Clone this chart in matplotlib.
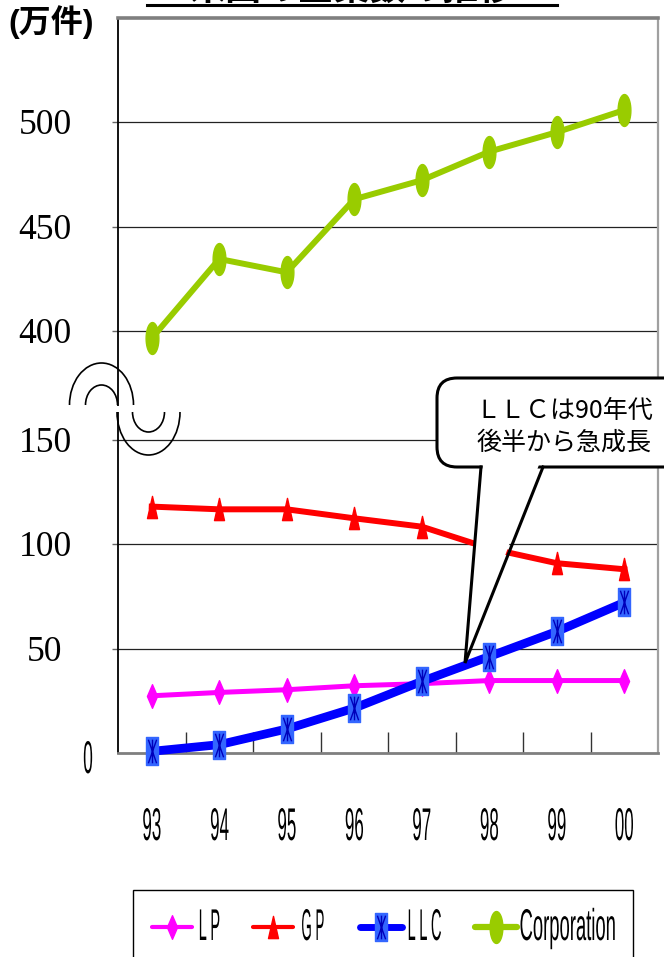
import numpy as np
import matplotlib
matplotlib.use('Agg')
import matplotlib.pyplot as plt
from matplotlib.path import Path
from matplotlib.patches import Arc, FancyBboxPatch, Polygon, Rectangle
from matplotlib.lines import Line2D
from matplotlib.text import Text
from matplotlib.transforms import Affine2D, Bbox, IdentityTransform, blended_transform_factory, offset_copy
from matplotlib.patheffects import AbstractPathEffect

# ---------------- data ----------------
years = ['93', '94', '95', '96', '97', '98', '99', '00']
lp = [27.4, 29.0, 30.3, 32.2, 33.2, 34.7, 34.7, 34.7]
gp = [118.0, 116.7, 116.7, 112.4, 108.4, 98.0, 90.9, 88.0]
llc = [0.8, 4.0, 11.5, 21.5, 34.3, 46.2, 58.2, 72.1]
corp = [396.6, 434.6, 428.2, 463.2, 472.3, 486.0, 495.3, 505.9]
series_names = ['L P', 'G P', 'L L C', 'Corporation']
ytick_values = [50, 100, 150, 400, 450, 500]
ytick_labels = ['50', '100', '150', '400', '450', '500']
title = '米国の企業数の推移'
unit = '(万件)'
note = 'ＬＬＣは90年代\n後半から急成長'

W, H = 664, 957
PX = IdentityTransform()


def py(y):
    return H - y


class Squeeze(AbstractPathEffect):
    """Horizontally condense glyphs around their centre."""
    def __init__(self, sx):
        super().__init__((0, 0))
        self.sx = sx

    def draw_path(self, renderer, gc, tpath, affine, rgbFace=None):
        ext = tpath.get_extents()
        cx = 0.5 * (ext.x0 + ext.x1)
        t = Affine2D().translate(-cx, 0).scale(self.sx, 1).translate(cx, 0) + affine
        renderer.draw_path(gc, tpath, t, rgbFace)


class CondensedText(Text):
    """Text drawn horizontally condensed; reports its condensed extent."""
    def __init__(self, *args, sx=0.4, **kwargs):
        super().__init__(*args, **kwargs)
        self._sx = sx
        self.set_path_effects([Squeeze(sx)])

    def get_window_extent(self, renderer=None, dpi=None):
        bb = super().get_window_extent(renderer, dpi)
        cx = 0.5 * (bb.x0 + bb.x1)
        w = bb.width * self._sx
        return Bbox.from_extents(cx - w / 2, bb.y0, cx + w / 2, bb.y1)


# broken y scale: 0-150 and 400-550 shown at the same scale, gap in between
LOW, HIGH, GAP = 150.0, 375.0, 52.0
D400 = LOW + GAP
DHIGH = HIGH - 400 + D400
K = (DHIGH - LOW) / (HIGH - LOW)


def fwd(v):
    v = np.asarray(v, float)
    return np.where(v <= LOW, v, np.where(v < HIGH, LOW + (v - LOW) * K, v - 400 + D400))


def inv(d):
    d = np.asarray(d, float)
    return np.where(d <= LOW, d, np.where(d < DHIGH, LOW + (d - LOW) / K, d - D400 + 400))


def closed(verts):
    verts = np.asarray(verts, float)
    return Path(np.vstack([verts, verts[:1]]), closed=True)


th = np.linspace(0, 2 * np.pi, 41)[:-1]
m_ellipse = closed(np.c_[0.4 * np.cos(th), np.sin(th)])
m_diamond = closed([(0, 1), (0.43, 0), (0, -1), (-0.43, 0)])
m_tri = closed([(0, 1), (0.45, -1), (-0.45, -1)])
m_rect = closed([(-0.43, -1), (0.43, -1), (0.43, 1), (-0.43, 1)])
m_x = Path([(-0.35, -1), (0.35, 1), (0.35, -1), (-0.35, 1), (0, -1), (0, 1)],
           [Path.MOVETO, Path.LINETO, Path.MOVETO, Path.LINETO, Path.MOVETO, Path.LINETO])

C_LP, C_GP, C_LLC, C_LLCM, C_LLCX, C_CORP = '#FF00FF', '#FF0000', '#0000FF', '#3366FF', '#0000BB', '#99CC00'

fig = plt.figure(figsize=(W / 100, H / 100), dpi=100)
ax = fig.add_axes([118 / W, 1 - 753 / H, 540 / W, 735 / H])
ax.set_yscale('function', functions=(fwd, inv))
ax.set_ylim(0, 550.0)
ax.set_xlim(-0.5, 7.5)

x = np.arange(len(years))
ax.plot(x, lp, color=C_LP, lw=3.6, marker=m_diamond, ms=17, mec=C_LP, mfc=C_LP, clip_on=False, zorder=3)
ax.plot(x, gp, color=C_GP, lw=4.3, marker=m_tri, ms=16, mec=C_GP, mfc=C_GP, clip_on=False, zorder=3)
ax.plot(x, llc, color=C_LLC, lw=6.3, marker=m_rect, ms=20.5, mec=C_LLCM, mfc=C_LLCM, clip_on=False, zorder=4)
ax.plot(x, llc, ls='none', marker=m_x, ms=17, mec=C_LLCX, mfc='none', mew=1.0, clip_on=False, zorder=4)
ax.plot(x, corp, color=C_CORP, lw=4.3, marker=m_ellipse, ms=23, mec=C_CORP, mfc=C_CORP, clip_on=False, zorder=4)

# grid & ticks
ax.set_yticks(ytick_values)
ax.set_yticklabels([])
ax.yaxis.grid(True, color='#222222', lw=0.9)
ax.tick_params(axis='y', direction='out', length=4, color='#666666', width=1)
ax.set_xticks(np.arange(0.5, 7.0, 1.0))
ax.set_xticklabels([])
ax.tick_params(axis='x', direction='in', length=15, color='#333333', width=1)
ax.set_axisbelow(True)
for s, c, w in [('left', 'black', 1.3), ('bottom', '#7f7f7f', 2.0), ('top', '#7f7f7f', 2.6), ('right', '#a0a0a0', 1.6)]:
    ax.spines[s].set_color(c)
    ax.spines[s].set_linewidth(w)

# y labels (serif) centred at x=45px
ytr = offset_copy(blended_transform_factory(fig.transFigure, ax.transData), fig=fig, y=-12, units='dots')
for v, lab in zip(ytick_values, ytick_labels):
    fig.text(45 / W, v, lab, transform=ytr, ha='center', va='baseline',
             fontsize=25.5, family='Liberation Serif')
fig.add_artist(CondensedText(88, py(773), '0', transform=PX, ha='center', va='baseline', fontsize=33,
                             family='Liberation Sans', sx=0.38))

# x labels (condensed)
xtr = blended_transform_factory(ax.transData, fig.transFigure)
for i, lab in enumerate(years):
    t = CondensedText(i, 1 - 840 / H, lab, transform=xtr, ha='center', va='baseline', fontsize=33,
                      family='Liberation Sans', sx=0.37)
    t.set_clip_on(False)
    ax.add_artist(t)

# title (mostly cut off) and underline
fig.text(352, py(0.5), title, transform=PX, ha='center', va='baseline', fontsize=26,
         fontweight='bold', family=['Noto Sans CJK JP', 'DejaVu Sans'])
fig.add_artist(Line2D([147, 557], [py(4.5), py(4.5)], transform=PX, color='black', lw=2.2))

# unit
fig.text(51, py(22.5), unit, transform=PX, ha='center', va='center', fontsize=23,
         fontweight='bold', family=['Liberation Sans', 'Noto Sans CJK JP'])

# axis break symbol
fig.add_artist(Rectangle((112, py(411.5)), 10, 6, transform=PX, fc='white', ec='none', zorder=6))
for (cx, cy, rx, ry, t1, t2) in [(101.5, 405, 32, 42, 0, 180), (101.5, 405, 16, 20, 0, 180),
                                 (148.5, 412, 31.5, 43, 180, 360), (148.5, 412, 16, 20, 180, 360)]:
    fig.add_artist(Arc((cx, py(cy)), 2 * rx, 2 * ry, theta1=t1, theta2=t2, transform=PX,
                       color='black', lw=1.2, zorder=7))

# callout bubble
fig.add_artist(FancyBboxPatch((437, py(467)), 300, 89, boxstyle='round,pad=0,rounding_size=20',
                              transform=PX, fc='white', ec='black', lw=2.2, zorder=8))
fig.add_artist(Polygon([(483, py(462)), (465, py(663)), (540, py(462))], closed=True, transform=PX,
                       fc='white', ec='none', zorder=9))
fig.add_artist(Line2D([481, 465, 543], [py(467), py(663), py(467)], transform=PX, color='black',
                      lw=2.2, zorder=10, solid_joinstyle='miter'))
fig.text(564, py(427), note, transform=PX, ha='center', va='center', multialignment='center',
         fontsize=18, linespacing=1.3, family=['Noto Sans CJK JP', 'DejaVu Sans'], zorder=11)

# legend (manual)
fig.add_artist(Rectangle((133, py(1000)), 500, 110, transform=PX, fc='white', ec='black', lw=1.0, zorder=2))
leg_y = 927
handles = [
    (152, 192, C_LP, 3.0, dict(marker=m_diamond, ms=17, mec=C_LP, mfc=C_LP), None),
    (253, 293, C_GP, 3.0, dict(marker=m_tri, ms=16, mec=C_GP, mfc=C_GP), None),
    (360, 402, C_LLC, 5.0, dict(marker=m_rect, ms=20.5, mec=C_LLCM, mfc=C_LLCM),
     dict(marker=m_x, ms=17, mec=C_LLCX, mfc='none', mew=1.0)),
    (475, 517, C_CORP, 4.5, dict(marker=m_ellipse, ms=23, mec=C_CORP, mfc=C_CORP), None),
]
text_x = [209, 313, 424, 568]
text_sx = [0.33, 0.30, 0.33, 0.415]
for (x0, x1, c, lw, mk, mk2), tx, sx, name in zip(handles, text_x, text_sx, series_names):
    fig.add_artist(Line2D([x0, x1], [py(leg_y)] * 2, transform=PX, color=c, lw=lw,
                          solid_capstyle='round', zorder=3))
    fig.add_artist(Line2D([(x0 + x1) / 2], [py(leg_y)], transform=PX, ls='none', zorder=4, **mk))
    if mk2:
        fig.add_artist(Line2D([(x0 + x1) / 2], [py(leg_y)], transform=PX, ls='none', zorder=5, **mk2))
    fig.add_artist(CondensedText(tx, py(940), name, transform=PX, ha='center', va='baseline', fontsize=32,
                                 family='Liberation Sans', sx=sx, zorder=5))

fig.savefig('out.png', dpi=100)
